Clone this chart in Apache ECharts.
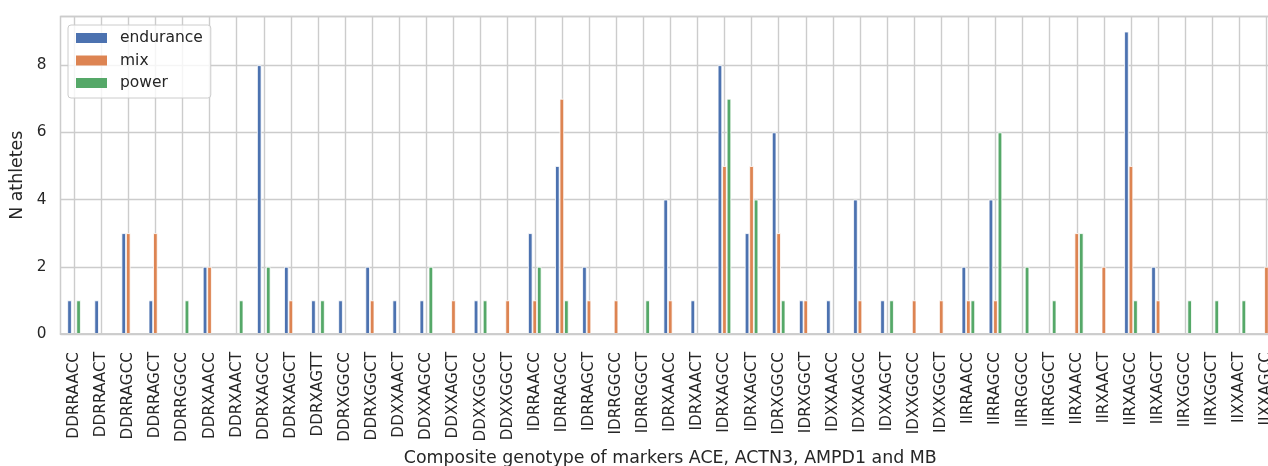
<!DOCTYPE html>
<html>
<head>
<meta charset="utf-8">
<script src="https://cdn.jsdelivr.net/npm/echarts@6/dist/echarts.min.js"></script>
<style>
  html, body { margin: 0; padding: 0; background: #ffffff; overflow: hidden; }
  #chart { width: 1268px; height: 466px; }
</style>
</head>
<body>
<div id="chart"></div>
<script>
// Composite genotypes (ACE, ACTN3, AMPD1, MB)
const genotypes = [
  'DDRRAACC', 'DDRRAACT', 'DDRRAGCC', 'DDRRAGCT', 'DDRRGGCC', 'DDRXAACC', 'DDRXAACT',
  'DDRXAGCC', 'DDRXAGCT', 'DDRXAGTT', 'DDRXGGCC', 'DDRXGGCT', 'DDXXAACT', 'DDXXAGCC',
  'DDXXAGCT', 'DDXXGGCC', 'DDXXGGCT', 'IDRRAACC', 'IDRRAGCC', 'IDRRAGCT', 'IDRRGGCC',
  'IDRRGGCT', 'IDRXAACC', 'IDRXAACT', 'IDRXAGCC', 'IDRXAGCT', 'IDRXGGCC', 'IDRXGGCT',
  'IDXXAACC', 'IDXXAGCC', 'IDXXAGCT', 'IDXXGGCC', 'IDXXGGCT', 'IIRRAACC', 'IIRRAGCC',
  'IIRRGGCC', 'IIRRGGCT', 'IIRXAACC', 'IIRXAACT', 'IIRXAGCC', 'IIRXAGCT', 'IIRXGGCC',
  'IIRXGGCT', 'IIXXAACT', 'IIXXAGCC'
];

// Number of athletes per genotype, by sport group
const endurance = [1, 1, 3, 1, 0, 2, 0, 8, 2, 1, 1, 2, 1, 1, 0, 1, 0, 3, 5, 2, 0, 0, 4, 1, 8, 3, 6, 1, 1, 4, 1, 0, 0, 2, 4, 0, 0, 0, 0, 9, 2, 0, 0, 0, 0];
const mix       = [0, 0, 3, 3, 0, 2, 0, 0, 1, 0, 0, 1, 0, 0, 1, 0, 1, 1, 7, 1, 1, 0, 1, 0, 5, 5, 3, 1, 0, 1, 0, 1, 1, 1, 1, 0, 0, 3, 2, 5, 1, 0, 0, 0, 2];
const power     = [1, 0, 0, 0, 1, 0, 1, 2, 0, 1, 0, 0, 0, 2, 0, 1, 0, 2, 1, 0, 0, 1, 0, 0, 7, 4, 1, 0, 0, 0, 1, 0, 0, 1, 6, 2, 1, 3, 0, 1, 0, 1, 1, 1, 0];

const yTicks = [0, 2, 4, 6, 8];

const seriesDefs = [
  { name: 'endurance', values: endurance, color: '#4C72B0' },
  { name: 'mix',       values: mix,       color: '#DD8452' },
  { name: 'power',     values: power,     color: '#55A868' }
];

const FONT = 'DejaVu Sans';
const TEXT = '#262626';
const GRID = '#cccccc';

const chart = echarts.init(document.getElementById('chart'), null, { renderer: 'canvas' });

chart.setOption({
  animation: false,
  backgroundColor: '#ffffff',
  textStyle: { fontFamily: FONT },
  grid: {
    left: 60.5, right: -12, top: 16.5, bottom: 132,
    outerBoundsMode: 'none',
    containLabel: false,
    show: true, borderColor: GRID, borderWidth: 1.5, backgroundColor: '#ffffff'
  },
  legend: {
    orient: 'vertical',
    left: 68, top: 25,
    icon: 'rect',
    itemWidth: 31, itemHeight: 10, itemGap: 6.5,
    itemStyle: { borderWidth: 0 },
    padding: [5, 8, 7, 8],
    backgroundColor: 'rgba(255,255,255,0.8)',
    borderColor: GRID, borderWidth: 1, borderRadius: 3,
    textStyle: { fontFamily: FONT, fontSize: 15.5, color: TEXT, lineHeight: 16, padding: [0, 0, 0, 8] },
    data: seriesDefs.map(s => s.name)
  },
  xAxis: [
    {
      type: 'category',
      data: genotypes,
      name: 'Composite genotype of markers ACE, ACTN3, AMPD1 and MB',
      nameLocation: 'middle',
      nameGap: 112,
      nameTextStyle: { fontFamily: FONT, fontSize: 17.4, color: TEXT },
      axisLine: { show: false },
      axisTick: { show: false },
      axisLabel: { rotate: 90, interval: 0, margin: 18, fontFamily: FONT, fontSize: 15.3, color: TEXT },
      splitLine: { show: true, alignWithLabel: true, lineStyle: { color: GRID, width: 1.4 } }
    },
    {
      // bottom spine drawn above the bars
      type: 'category',
      data: genotypes,
      position: 'bottom',
      z: 5,
      axisLine: { show: true, lineStyle: { color: GRID, width: 1.5 } },
      axisTick: { show: false },
      axisLabel: { show: false },
      splitLine: { show: false }
    }
  ],
  yAxis: {
    type: 'value',
    min: 0, max: 9.45, interval: 2,
    name: 'N athletes',
    nameLocation: 'middle',
    nameGap: 33,
    nameTextStyle: { fontFamily: FONT, fontSize: 17.4, color: TEXT },
    axisLine: { show: false },
    axisTick: { show: false },
    axisLabel: {
      margin: 14, fontFamily: FONT, fontSize: 15.3, color: TEXT,
      formatter: v => (yTicks.indexOf(v) >= 0 ? String(v) : '')
    },
    splitLine: { show: true, lineStyle: { color: GRID, width: 1.4 } }
  },
  series: seriesDefs.map(s => ({
    name: s.name,
    type: 'bar',
    xAxisIndex: 0,
    barWidth: 4.51,
    barGap: '0%',
    itemStyle: { color: s.color, borderColor: '#ffffff', borderWidth: 0.8 },
    data: s.values.map(v => (v === 0 ? null : v))
  }))
});
</script>
</body>
</html>
